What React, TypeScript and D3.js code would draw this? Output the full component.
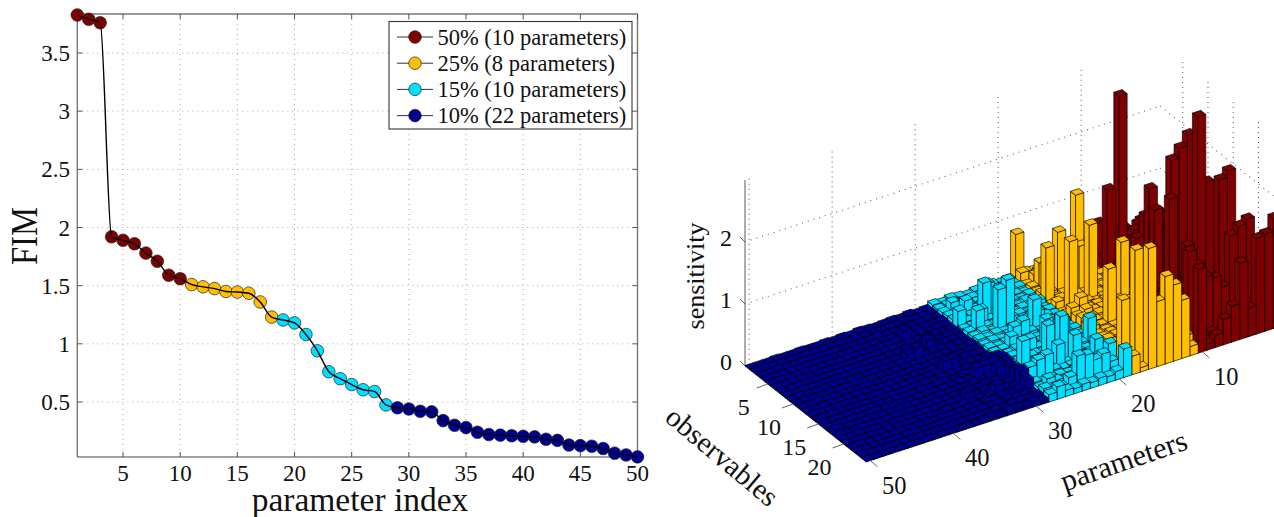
import React from 'react';
import * as d3 from 'd3';

const fimIndex = d3.range(1, 51);
const fimValues = [3.827,3.79,3.76,1.92,1.89,1.86,1.78,1.71,1.59,1.56,1.51,1.49,1.475,1.45,1.445,1.435,1.36,1.23,1.205,1.18,1.08,0.94,0.76,0.70,0.65,0.605,0.59,0.475,0.45,0.44,0.42,0.415,0.34,0.30,0.28,0.24,0.22,0.215,0.21,0.205,0.20,0.18,0.17,0.13,0.125,0.12,0.10,0.06,0.045,0.028];
const xTicks = [5,10,15,20,25,30,35,40,45,50];
const yTicks = [0.5,1,1.5,2,2.5,3,3.5];
const legendLabels = ['50% (10 parameters)','25% (8 parameters)','15% (10 parameters)','10% (22 parameters)'];
const groupColors = ['#7f0000','#ffbf00','#00dfff','#00008f'];
const groupEnds = [10,18,28,50];

// low sensitivities, hundredths, one row per observable, parameters 1..50
const row01 = [40,30,35,20,30,25,40,30,20,30,12,10,14,9,15,10,12,8,9,7,10,6,8,5,7,9,6,8,3,2,4,2,3,2,1,2,3,1,2,1,2,1,1,2,1,1,2,1,1,1];
const row02 = [35,45,30,40,25,35,30,20,35,25,10,14,8,12,9,16,11,7,8,10,6,9,7,8,6,5,9,7,4,3,2,4,2,3,2,1,2,2,1,2,1,1,2,1,1,2,1,1,2,1];
const row03 = [50,40,45,30,40,35,30,40,25,30,9,13,15,10,8,12,14,9,10,7,9,6,10,8,6,7,5,8,3,4,3,2,3,2,2,3,1,2,2,1,2,1,1,1,2,1,1,2,1,1];
const row04 = [45,35,50,45,30,25,35,30,40,35,14,9,12,11,13,8,10,12,7,9,8,11,6,10,7,6,8,9,5,3,4,3,2,3,2,2,2,1,2,1,1,2,1,2,1,1,1,1,1,2];
const row05 = [30,40,35,50,45,30,40,35,30,30,12,15,10,13,9,14,8,10,11,8,10,7,9,12,6,8,7,10,4,5,3,4,3,2,3,2,1,2,1,2,2,1,2,1,1,2,1,1,2,1];
const row06 = [55,45,40,35,50,40,30,45,35,30,16,11,14,9,12,10,13,15,8,12,7,10,9,8,11,7,9,6,4,3,5,3,4,3,2,3,2,2,1,2,1,2,1,1,2,1,2,1,1,1];
const row07 = [40,50,45,40,35,55,45,30,40,25,13,17,11,15,10,13,9,12,14,9,11,8,12,7,10,9,8,7,5,4,3,5,3,2,4,2,3,1,2,2,1,1,2,1,1,1,2,1,1,2];
const row08 = [35,40,55,45,40,35,50,40,30,35,11,14,16,12,13,9,15,10,8,13,9,12,7,11,8,10,7,9,3,5,4,3,4,5,3,2,2,2,1,1,2,2,1,2,1,1,1,2,1,1];
const row09 = [50,45,40,55,45,40,35,50,35,30,15,12,13,17,10,14,11,13,12,8,14,9,11,10,8,7,12,8,4,4,3,4,6,3,4,3,2,1,2,2,1,1,1,2,2,1,1,1,2,1];
const row10 = [45,55,50,40,50,45,40,35,45,35,12,16,14,10,15,12,13,9,11,14,10,13,8,12,9,11,8,10,6,3,5,4,3,4,3,2,3,2,1,2,2,1,2,1,1,2,1,1,1,2];
const row11 = [40,50,45,55,40,50,45,40,35,40,18,13,15,12,11,16,10,14,9,12,13,11,10,9,12,8,10,7,5,6,4,3,5,3,2,3,2,2,2,1,1,2,1,1,2,1,1,2,1,1];
const row12 = [25,20,30,25,20,30,25,20,20,25,24,27,22,26,23,21,25,30,13,9,12,10,14,11,8,10,7,9,4,5,6,4,3,4,3,2,3,1,2,2,1,1,2,2,1,1,2,1,1,1];
const row13 = [20,25,18,20,25,22,20,25,20,15,26,22,28,23,25,24,30,23,11,15,9,12,10,13,11,7,9,8,5,4,5,7,4,18,3,4,2,2,1,2,2,1,1,2,1,2,1,1,1,2];
const row14 = [22,18,25,20,22,18,20,18,20,16,23,25,24,27,22,26,23,21,14,10,13,11,12,9,10,12,8,9,6,5,4,6,3,5,4,2,3,2,2,1,1,2,1,1,2,1,1,2,1,1];
const row15 = [18,20,16,22,18,20,18,20,16,18,27,24,26,22,28,23,25,22,10,13,11,14,9,12,8,10,11,7,5,7,5,4,6,3,3,4,2,3,1,2,1,1,2,1,1,2,1,1,1,6];
const row16 = [20,16,18,15,20,16,18,15,18,14,25,28,23,26,24,22,24,26,12,11,14,9,13,10,12,8,9,11,6,8,6,5,4,5,3,3,2,2,3,1,2,1,1,2,1,1,2,1,1,2];
const row17 = [14,18,15,16,14,18,16,18,15,14,23,26,29,24,27,25,22,24,13,15,10,12,11,14,9,13,8,10,5,6,7,5,6,4,4,2,3,2,1,2,2,1,1,1,2,1,1,1,2,1];
const row18 = [16,14,18,15,16,14,18,15,16,15,29,25,24,28,23,26,25,21,14,12,13,10,14,9,12,8,11,9,7,5,6,8,4,5,3,4,2,3,2,1,2,1,2,1,1,2,1,1,1,3];
const row19 = [15,16,14,18,15,16,15,18,14,16,24,29,26,23,27,24,28,25,12,14,11,13,9,15,10,12,8,10,6,7,5,6,7,4,4,3,3,2,2,2,1,2,1,1,2,1,1,2,1,1];
const row20 = [18,14,16,15,18,15,16,15,18,14,27,23,28,25,24,29,25,27,13,11,14,12,11,10,13,9,12,8,7,6,8,5,6,5,3,4,2,3,1,2,2,1,1,2,1,1,2,1,1,2];
const row21 = [15,18,15,16,14,18,15,16,15,16,25,28,24,29,26,23,27,24,15,12,13,11,13,9,11,10,9,12,6,8,5,7,4,6,4,3,3,2,2,1,2,2,1,1,1,2,1,1,2,1];
const row22 = [14,16,18,15,16,15,18,14,16,15,30,24,27,25,28,26,23,28,12,15,11,14,10,12,9,13,8,10,5,7,6,8,5,4,5,3,2,3,2,2,1,1,2,2,1,1,1,2,1,1];
const row23 = [16,15,16,18,15,16,14,18,15,18,26,29,25,28,24,27,25,23,14,11,13,10,12,8,11,9,12,7,8,5,7,6,4,6,3,4,3,2,2,1,2,1,1,2,1,2,1,1,1,2];
const row24 = [45,50,45,50,55,40,50,45,55,50,18,15,19,14,16,13,18,14,12,14,10,12,9,11,8,12,7,9,6,8,5,7,6,3,5,3,2,3,1,2,2,1,2,1,1,1,2,1,1,1];
const lowRows = [row01,row02,row03,row04,row05,row06,row07,row08,row09,row10,row11,row12,row13,row14,row15,row16,row17,row18,row19,row20,row21,row22,row23,row24];

// taller bars
const peakParam = [8,10,10,9,6,5,4,4,3,8,8,8,8,2,1,1,2,3,4,5,6,7,8,9,10,5,4,3,6,9,10,9,8,7,
  18,18,17,12,14,14,17,16,18,12,16,16,17,17,18,18,15,14,13,12,11,18,18,18,17,18,17,
  25,24,25,24,22,19,20,21,22,24,23,24,22,23,24,23,26,26,27,27,27,28,
  26,27,26,25,26,24,25,26,27,28,28,25,27,28,22,21,21,20,19,20,22,19,
  35,31,34,34,33,36,33,32,30,50,50,35,32,29,29,29,29,29,29,29,30];
const peakObs = [5,6,4,10,12,12,12,14,14,11,12,10,15,15,15,24,24,24,24,24,24,24,24,24,24,22,22,22,22,22,22,20,22,22,
  1,2,3,3,9,7,10,6,7,12,16,24,23,24,24,22,24,24,24,24,24,17,14,9,12,20,4,
  6,9,9,5,11,24,23,23,23,23,23,19,19,18,17,15,20,24,17,20,8,6,
  4,3,7,12,13,12,15,17,22,20,23,23,24,24,14,15,10,13,17,20,22,21,
  9,16,13,5,8,9,13,16,16,15,18,19,20,15,16,17,18,19,20,21,17];
const peakValue = [2.83,1.47,0.8,0.9,2.16,2.31,2.48,2.9,1.8,1.72,1.44,1.22,1.81,1.86,1.96,1.78,1.57,1.54,0.46,1.23,0.58,0.41,0.2,0.1,1.35,1.54,1.65,1.72,0.76,1.24,1.5,1.42,1.0,0.95,
  0.78,0.22,0.21,1.28,1.27,0.8,1.2,1.05,0.95,1.1,1.1,1.95,1.9,0.07,0.3,1.07,1.05,1.41,1.23,0.94,0.15,0.19,0.27,0.2,0.42,0.25,0.47,
  0.62,0.82,0.71,0.5,0.54,0.46,0.24,0.4,0.35,0.5,0.47,0.42,0.49,0.77,0.6,0.53,0.41,0.1,0.48,0.37,0.39,0.3,
  0.25,0.2,0.3,0.3,0.25,0.35,0.3,0.2,0.2,0.3,0.15,0.2,0.2,0.12,0.35,0.45,0.25,0.3,0.5,0.4,0.15,0.35,
  0.2,0.2,0.2,0.18,0.18,0.15,0.2,0.2,0.2,0.1,0.12,0.12,0.18,0.2,0.25,0.25,0.22,0.25,0.28,0.2,0.2];

const paramTicks = [10,20,30,40,50];
const obsTicks = [5,10,15,20];
const sensTicks = [0,1,2];

const serif = '"Liberation Serif", "Times New Roman", serif';

function LeftPanel() {
  const x = d3.scaleLinear([1, 50], [77.3, 637.5]);
  const y = d3.scaleLinear([0.5, 3.5], [402, 53]);
  const top = 14, bottom = 457, left = 77.3, right = 637.5;
  const line = d3.line<number>().x((_, i) => x(fimIndex[i])).y(d => y(d)).curve(d3.curveMonotoneX);
  const colorOf = d3.scaleThreshold<number, string>().domain(groupEnds.slice(0, 3).map(e => e + 0.5)).range(groupColors);
  return (
    <g fontFamily={serif} fill="#111">
      {xTicks.slice(0, -1).map(t => <line key={t} x1={x(t)} x2={x(t)} y1={top} y2={bottom} stroke="#aaa" strokeWidth={1} strokeDasharray="1 4" />)}
      {yTicks.map(t => <line key={t} x1={left} x2={right} y1={y(t)} y2={y(t)} stroke="#aaa" strokeWidth={1} strokeDasharray="1 4" />)}
      <path d={`M${left},${bottom}V${top}H${right}V${bottom}`} fill="none" stroke="#777" strokeWidth={1.4} />
      <line x1={left} x2={right} y1={bottom} y2={bottom} stroke="#444" strokeWidth={1.2} />
      {xTicks.map(t => <g key={t}>
        <line x1={x(t)} x2={x(t)} y1={bottom} y2={bottom - 5} stroke="#555" />
        <line x1={x(t)} x2={x(t)} y1={top} y2={top + 5} stroke="#555" />
        <text x={x(t)} y={481} fontSize={23} textAnchor="middle">{t}</text>
      </g>)}
      {yTicks.map(t => <g key={t}>
        <line x1={left} x2={left + 5} y1={y(t)} y2={y(t)} stroke="#555" />
        <line x1={right} x2={right - 5} y1={y(t)} y2={y(t)} stroke="#555" />
        <text x={70} y={y(t) + 8} fontSize={23} textAnchor="end">{t}</text>
      </g>)}
      {fimValues.map((v, i) => <circle key={i} cx={x(fimIndex[i])} cy={y(v)} r={6.3} fill={colorOf(fimIndex[i])} stroke="#222" strokeWidth={0.7} />)}
      <path d={line(fimValues) ?? ''} fill="none" stroke="#000" strokeWidth={1.4} />
      <text x={360} y={511} fontSize={33.5} textAnchor="middle">parameter index</text>
      <text transform="translate(37,236) rotate(-90) scale(0.86,1)" fontSize={38} textAnchor="middle">FIM</text>
      <rect x={389} y={21.5} width={243} height={107.5} fill="#fff" stroke="#333" strokeWidth={1.1} />
      {legendLabels.map((l, i) => {
        const ly = 37 + i * 26.2;
        return <g key={l}>
          <line x1={397} x2={433} y1={ly} y2={ly} stroke="#333" strokeWidth={1} />
          <circle cx={415} cy={ly} r={6.3} fill={groupColors[i]} stroke="#222" strokeWidth={0.7} />
          <text x={437.5} y={ly + 7.5} fontSize={22.5}>{l}</text>
        </g>;
      })}
    </g>
  );
}

function RightPanel() {
  const px = d3.scaleLinear([50.5, 0.5], [0, 415]);
  const py = d3.scaleLinear([50.5, 0.5], [0, -136]);
  const ox = d3.scaleLinear([0.5, 24.5], [0, 121.2]);
  const oy = d3.scaleLinear([0.5, 24.5], [0, 96]);
  const zy = d3.scaleLinear([0, 3], [0, 186]);
  const X = (p: number, o: number) => 745 + px(p) + ox(o);
  const Y = (p: number, o: number, z: number) => 366 + py(p) + oy(o) - zy(z);
  const pt = (p: number, o: number, z: number) => `${X(p, o).toFixed(2)},${Y(p, o, z).toFixed(2)}`;

  const heights = lowRows.map(r => r.map(v => v / 100));
  peakParam.forEach((p, i) => { heights[peakObs[i] - 1][p - 1] = peakValue[i]; });

  const colorOf = d3.scaleThreshold<number, string>().domain(groupEnds.slice(0, 3).map(e => e + 0.5)).range(groupColors);
  const bars: React.ReactNode[] = [];
  heights.forEach((row, oi) => {
    const o = oi + 1;
    row.forEach((h, pi) => {
      const p = pi + 1;
      const a = p - 0.5, b = p + 0.5, c = o - 0.5, d = o + 0.5;
      const fill = colorOf(p);
      bars.push(<g key={`${o}-${p}`} fill={fill} stroke="#000" strokeWidth={0.65} strokeLinejoin="round">
        <polygon points={[pt(b, c, 0), pt(b, d, 0), pt(b, d, h), pt(b, c, h)].join(' ')} />
        <polygon points={[pt(b, d, 0), pt(a, d, 0), pt(a, d, h), pt(b, d, h)].join(' ')} />
        <polygon points={[pt(a, c, h), pt(b, c, h), pt(b, d, h), pt(a, d, h)].join(' ')} />
      </g>);
    });
  });

  const grid = '#666';
  return (
    <g fontFamily={serif} fill="#111">
      {paramTicks.map(t => <line key={t} x1={X(t, 0.5)} x2={X(t, 0.5)} y1={Y(t, 0.5, 0)} y2={Y(t, 0.5, 3)} stroke={grid} strokeWidth={1.1} strokeDasharray="1 4" />)}
      {obsTicks.map(t => <line key={t} x1={X(0.5, t)} x2={X(0.5, t)} y1={Y(0.5, t, 0)} y2={Y(0.5, t, 3)} stroke={grid} strokeWidth={1.1} strokeDasharray="1 4" />)}
      {sensTicks.slice(1).map(t => <g key={t}>
        <line x1={X(50.5, 0.5)} y1={Y(50.5, 0.5, t)} x2={X(0.5, 0.5)} y2={Y(0.5, 0.5, t)} stroke={grid} strokeWidth={1.1} strokeDasharray="1 5" />
        <line x1={X(0.5, 0.5)} y1={Y(0.5, 0.5, t)} x2={X(0.5, 24.5)} y2={Y(0.5, 24.5, t)} stroke={grid} strokeWidth={1.1} strokeDasharray="1 5" />
      </g>)}
      <line x1={X(50.5, 0.5)} x2={X(50.5, 0.5)} y1={Y(50.5, 0.5, 0)} y2={Y(50.5, 0.5, 3)} stroke="#777" strokeWidth={1.2} />
      {sensTicks.map(t => <g key={t}>
        <line x1={X(50.5, 0.5)} y1={Y(50.5, 0.5, t)} x2={X(50.5, 0.5) - 5} y2={Y(50.5, 0.5, t) - 5} stroke="#666" />
        <text x={726} y={Y(50.5, 0.5, t) + 4} fontSize={24} textAnchor="middle">{t}</text>
      </g>)}
      {bars}
      {paramTicks.map(t => <g key={t}>
        <line x1={X(t, 24.5)} y1={Y(t, 24.5, 0)} x2={X(t, 24.5) + 7} y2={Y(t, 24.5, 0) + 6} stroke="#666" />
        <text x={X(t, 24.5) + 24} y={Y(t, 24.5, 0) + 33} fontSize={24.5} textAnchor="middle">{t}</text>
      </g>)}
      {obsTicks.map(t => <g key={t}>
        <line x1={X(50.5, t)} y1={Y(50.5, t, 0)} x2={X(50.5, t) - 11} y2={Y(50.5, t, 0) + 4} stroke="#666" />
        <text x={X(50.5, t) - 24} y={Y(50.5, t, 0) + 31} fontSize={24} textAnchor="middle">{t}</text>
      </g>)}
      <text transform="translate(704,276) rotate(-90)" fontSize={26} textAnchor="middle">sensitivity</text>
      <text transform="translate(716,464) rotate(40)" fontSize={29} textAnchor="middle">observables</text>
      <text transform="translate(1127,470) rotate(-19)" fontSize={30} textAnchor="middle">parameters</text>
    </g>
  );
}

export default function App() {
  return (
    <svg width={1274} height={517} viewBox="0 0 1274 517" style={{ position: 'absolute', left: 0, top: 0, background: '#fff' }}>
      <LeftPanel />
      <RightPanel />
    </svg>
  );
}
